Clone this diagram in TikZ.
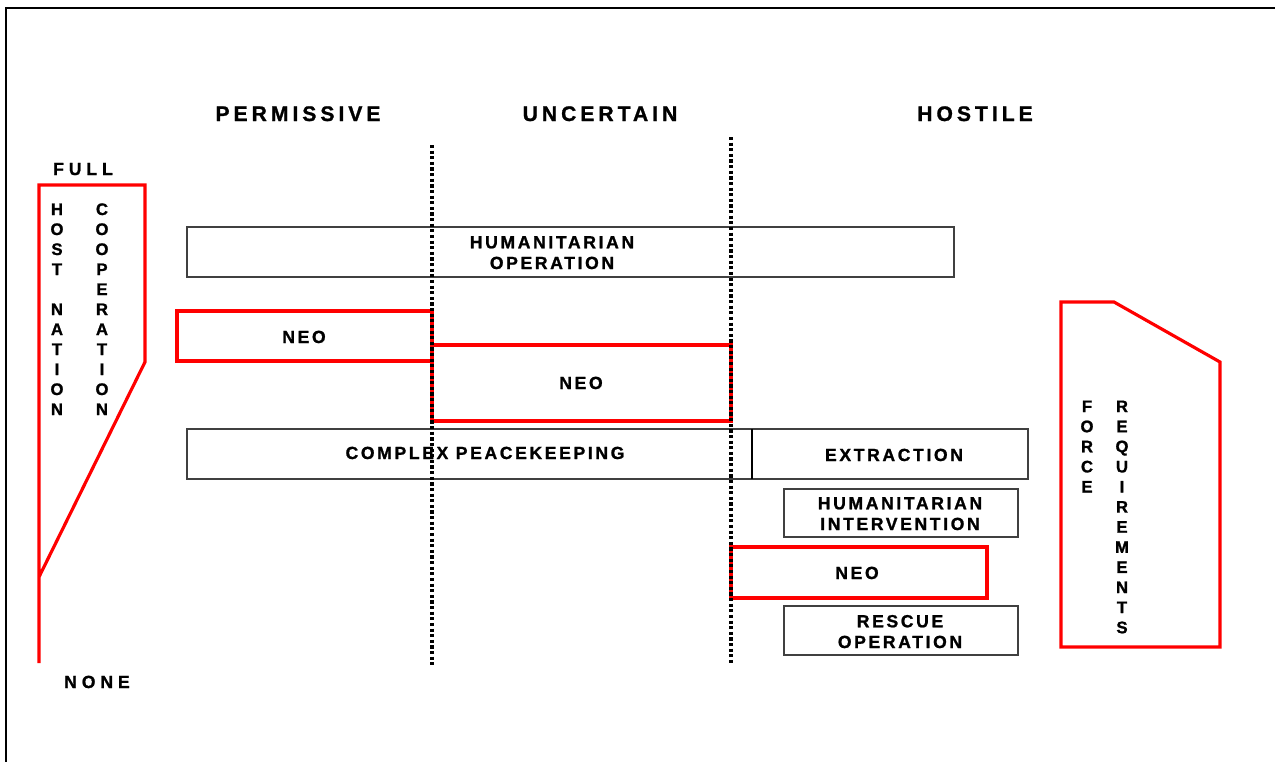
\documentclass[tikz,border=0pt]{standalone}
\usepackage{fontspec}
\setmainfont{Liberation Sans}
\newfontfamily\headfont[LetterSpace=19, FakeBold=1.2]{Liberation Sans Bold}
\newfontfamily\capsfont[LetterSpace=15, FakeBold=1.2]{Liberation Sans Bold}
\newfontfamily\endfont[LetterSpace=28, FakeBold=1.2]{Liberation Sans Bold}
\newfontfamily\letterfont[FakeBold=1.2]{Liberation Sans Bold}
\usetikzlibrary{positioning}

\begin{document}
\begin{tikzpicture}[
    x=0.02cm, y=-0.02cm,
    header/.style={anchor=base, inner sep=0pt, font=\headfont\fontsize{12}{14}\selectfont},
    boxlabel/.style={anchor=base, inner sep=0pt, align=center, font=\capsfont\fontsize{10}{11.8}\selectfont},
    endlabel/.style={anchor=base, inner sep=0pt, font=\endfont\fontsize{10}{12}\selectfont},
    vletter/.style={anchor=base, inner sep=0pt, font=\letterfont\fontsize{9.5}{11}\selectfont},
    opbox/.style={draw=black!75, line width=0.8pt},
    neobox/.style={draw=red, line width=1.8pt},
    bound/.style={draw=red, line width=1.8pt},
    zone/.style={line width=2pt, dash pattern=on 1.8pt off 1.4pt},
    frame/.style={line width=1.1pt}
]
    \useasboundingbox (0,0) rectangle (1275,761);

    % Frame
    \draw[frame] (6,770) -- (6,8) -- (1285,8);

    % Headers
    \node[header] (permissive) at (298,121) {PERMISSIVE};
    \node[header] (uncertain) at (600,121) {UNCERTAIN};
    \node[header] (hostile) at (975,121) {HOSTILE};

    % Host nation cooperation scale
    \node[endlabel] (full) at (83,175) {FULL};
    \node[endlabel] (none) at (97,688) {NONE};
    \draw[bound] (39,663) -- (39,185) -- (145,185) -- (145,362) -- (39,577);
    \foreach \ch [count=\i] in {H,O,S,T,{},N,A,T,I,O,N}
        \node[vletter] (host\i) at (57,195+20*\i) {\ch};
    \foreach \ch [count=\i] in {C,O,O,P,E,R,A,T,I,O,N}
        \node[vletter] (coop\i) at (102,195+20*\i) {\ch};

    % Force requirements scale
    \draw[bound] (1061,302) -- (1114,302) -- (1220,362) -- (1220,647) -- (1061,647) -- cycle;
    \foreach \ch [count=\i] in {F,O,R,C,E}
        \node[vletter] (force\i) at (1087,392+20.1*\i) {\ch};
    \foreach \ch [count=\i] in {R,E,Q,U,I,R,E,M,E,N,T,S}
        \node[vletter] (req\i) at (1122,392+20.1*\i) {\ch};

    % Operations
    \draw[opbox] (187,227) rectangle (954,277);
    \node[boxlabel] (humop) at (552,269) {HUMANITARIAN\\OPERATION};

    \draw[neobox] (177,311) rectangle (432,361);
    \node[boxlabel] (neoa) at (304,343) {NEO};

    \draw[neobox] (432,345) rectangle (731,421);
    \node[boxlabel] (neob) at (581,389) {NEO};

    \draw[opbox] (187,429) rectangle (752,479);
    \node[boxlabel] (peace) at (485,459) {COMPLEX PEACEKEEPING};

    \draw[opbox] (752,429) rectangle (1028,479);
    \draw[frame] (752,429) -- (752,479);
    \node[boxlabel] (extract) at (894,461) {EXTRACTION};

    \draw[opbox] (784,489) rectangle (1018,537);
    \node[boxlabel] (humint) at (900,530) {HUMANITARIAN\\INTERVENTION};

    \draw[neobox] (731,547) rectangle (987,598);
    \node[boxlabel] (neoc) at (857,579) {NEO};

    \draw[opbox] (784,606) rectangle (1018,655);
    \node[boxlabel] (rescue) at (900,648) {RESCUE\\OPERATION};

    % Zone boundaries
    \draw[zone] (432,145) -- (432,665);
    \draw[zone] (731,137) -- (731,665);

\end{tikzpicture}
\end{document}
